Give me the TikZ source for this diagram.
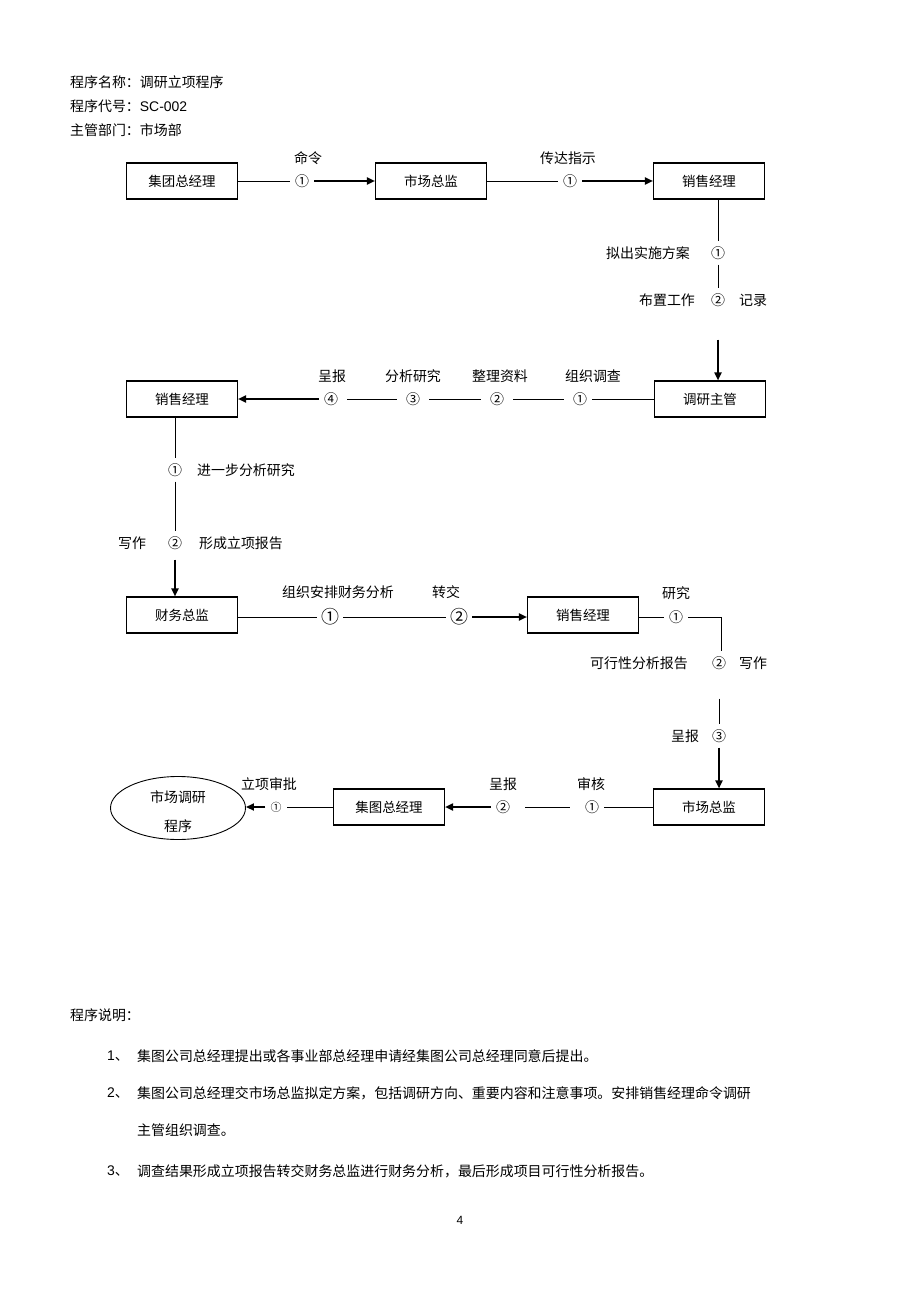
\documentclass[tikz,border=0pt]{standalone}
\usepackage{fontspec}
\setmainfont{Liberation Sans}
\newfontfamily\cjk{Noto Sans CJK SC}
\usetikzlibrary{arrows.meta,shapes.geometric}
\begin{document}
\begin{tikzpicture}[x=1bp,y=-1bp,
  font=\cjk\fontsize{14}{17}\selectfont,
  box/.style={draw, line width=1.1bp, minimum width=111bp, minimum height=36bp, inner sep=0, font=\cjk\fontsize{13.5}{16}\selectfont},
  num/.style={inner sep=5bp},
  bignum/.style={inner sep=4bp, font=\cjk\fontsize{18}{20}\selectfont},
  smallnum/.style={inner sep=5bp, font=\cjk\fontsize{11}{13}\selectfont},
  lbl/.style={inner sep=0},
  ln/.style={line width=0.8bp},
  arr/.style={line width=1.8bp, -{Triangle[length=8bp,width=7bp]}},
]
\useasboundingbox[fill=white] (0,0) rectangle (920,1303);

% header
\node[lbl, anchor=west] (h1) at (70,82) {程序名称：调研立项程序};
\node[lbl, anchor=west] (h2) at (70,106) {程序代号：{\rmfamily SC-002}};
\node[lbl, anchor=west] (h3) at (70,130) {主管部门：市场部};

% row 1
\node[box] (b1) at (182,181) {集团总经理};
\node[num] (n11) at (302,181) {①};
\node[lbl] (l11) at (308,158) {命令};
\node[box] (b2) at (431,181) {市场总监};
\node[num] (n12) at (570,181) {①};
\node[lbl] (l12) at (568,158) {传达指示};
\node[box] (b3) at (709,181) {销售经理};
\draw[ln] (b1) -- (n11);
\draw[arr] (n11) -- (b2);
\draw[ln] (b2) -- (n12);
\draw[arr] (n12) -- (b3);

% vertical 1
\node[num] (n21) at (718,253) {①};
\node[lbl] (l21) at (648,253) {拟出实施方案};
\node[num] (n22) at (718,300) {②};
\node[lbl] (l22) at (667,300) {布置工作};
\node[lbl] (l23) at (753,300) {记录};
\node[box] (b4) at (710,399) {调研主管};
\draw[ln] (b3.south -| n21) -- (n21);
\draw[ln] (n21) -- (n22);
\draw[arr, shorten <=28bp] (n22) -- (b4.north -| n22);

% row 2
\node[num] (n31) at (580,399) {①};
\node[num] (n32) at (497,399) {②};
\node[num] (n33) at (413,399) {③};
\node[num] (n34) at (331,399) {④};
\node[lbl] (l31) at (593,376) {组织调查};
\node[lbl] (l32) at (500,376) {整理资料};
\node[lbl] (l33) at (413,376) {分析研究};
\node[lbl] (l34) at (332,376) {呈报};
\node[box] (b5) at (182,399) {销售经理};
\draw[ln] (b4) -- (n31);
\draw[ln, shorten <=4bp, shorten >=4bp] (n31) -- (n32);
\draw[ln, shorten <=4bp, shorten >=4bp] (n32) -- (n33);
\draw[ln, shorten <=4bp, shorten >=4bp] (n33) -- (n34);
\draw[arr] (n34) -- (b5);

% vertical 2
\node[num] (n41) at (175,470) {①};
\node[lbl] (l41) at (246,470) {进一步分析研究};
\node[num] (n42) at (175,543) {②};
\node[lbl] (l42) at (132,543) {写作};
\node[lbl] (l43) at (241,543) {形成立项报告};
\node[box] (b6) at (182,615) {财务总监};
\draw[ln] (b5.south -| n41) -- (n41);
\draw[ln] (n41) -- (n42);
\draw[arr, shorten <=5bp] (n42) -- (b6.north -| n42);

% row 3
\node[bignum] (n51) at (330,617) {①};
\node[lbl] (l51) at (338,592) {组织安排财务分析};
\node[bignum] (n52) at (459,617) {②};
\node[lbl] (l52) at (446,592) {转交};
\node[box] (b7) at (583,615) {销售经理};
\node[num] (n53) at (676,617) {①};
\node[lbl] (l53) at (676,593) {研究};
\coordinate (k1) at (721,617);
\draw[ln] (b6.east |- n51) -- (n51);
\draw[ln] (n51) -- (n52);
\draw[arr] (n52) -- (b7.west |- n52);
\draw[ln] (b7.east |- n53) -- (n53);

% vertical 3
\node[num] (n61) at (719,663) {②};
\node[lbl] (l61) at (639,663) {可行性分析报告};
\node[lbl] (l62) at (753,663) {写作};
\node[num] (n62) at (719,736) {③};
\node[lbl] (l63) at (685,736) {呈报};
\node[box] (b8) at (709,807) {市场总监};
\draw[ln] (n53.east |- k1) -- (k1) -- (k1 |- n61.north);
\draw[ln, shorten <=24bp] (n61) -- (n62);
\draw[arr] (n62) -- (b8.north -| n62);

% row 4
\node[num] (n71) at (592,807) {①};
\node[lbl] (l71) at (591,784) {审核};
\node[num] (n72) at (503,807) {②};
\node[lbl] (l72) at (503,784) {呈报};
\node[box] (b9) at (389,807) {集图总经理};
\node[smallnum] (n73) at (276,807) {①};
\node[lbl] (l73) at (269,784) {立项审批};
\node[ellipse, draw, line width=0.9bp, minimum width=135bp, minimum height=63bp, inner sep=0] (e1) at (178,808) {};
\node[lbl] (e1a) at (178,797) {市场调研};
\node[lbl] (e1b) at (178,826) {程序};
\draw[ln] (b8) -- (n71);
\draw[ln, shorten <=10bp, shorten >=10bp] (n71) -- (n72);
\draw[arr] (n72) -- (b9);
\draw[ln] (b9) -- (n73);
\draw[arr] (n73) -- (e1.east |- n73);

% explanation
\node[lbl, anchor=west] (t0) at (70,1015) {程序说明：};
\node[lbl, anchor=west] (t1n) at (107,1056) {{\rmfamily 1}、};
\node[lbl, anchor=west] (t1) at (137,1056) {集图公司总经理提出或各事业部总经理申请经集图公司总经理同意后提出。};
\node[lbl, anchor=west] (t2n) at (107,1093) {{\rmfamily 2}、};
\node[lbl, anchor=west] (t2) at (137,1093) {集图公司总经理交市场总监拟定方案，包括调研方向、重要内容和注意事项。安排销售经理命令调研};
\node[lbl, anchor=west] (t2b) at (137,1130) {主管组织调查。};
\node[lbl, anchor=west] (t3n) at (107,1171) {{\rmfamily 3}、};
\node[lbl, anchor=west] (t3) at (137,1171) {调查结果形成立项报告转交财务总监进行财务分析，最后形成项目可行性分析报告。};
\node[lbl] (pg) at (460,1220) {\rmfamily\fontsize{12}{14}\selectfont 4};
\end{tikzpicture}
\end{document}
